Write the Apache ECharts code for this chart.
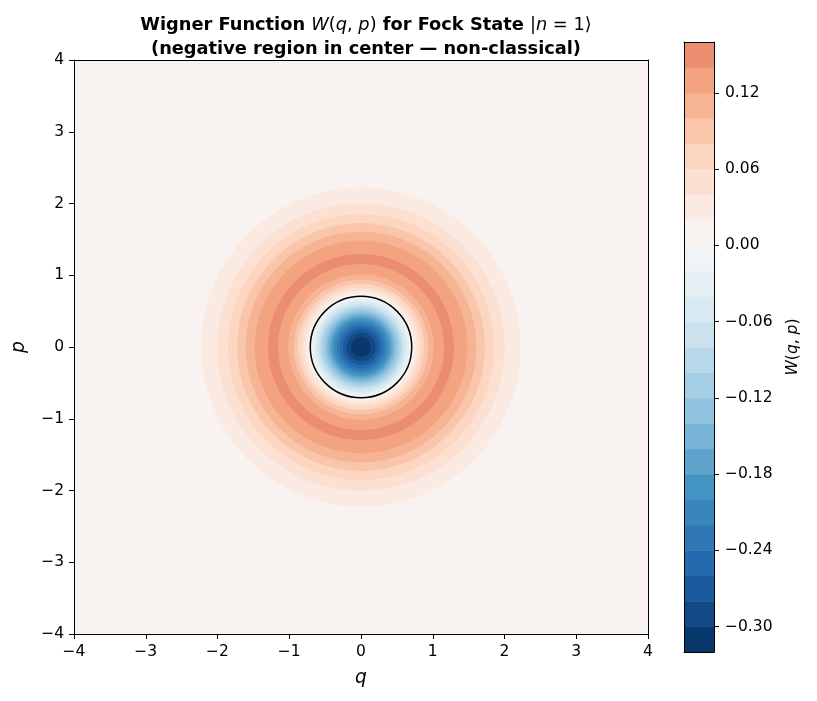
<!DOCTYPE html>
<html>
<head>
<meta charset="utf-8">
<script src="https://cdn.jsdelivr.net/npm/echarts@6/dist/echarts.min.js"></script>
<style>
html,body{margin:0;padding:0;background:#fff;}
#chart{width:817px;height:701px;}
</style>
</head>
<body>
<div id="chart"></div>
<script>
// Contour levels of W(q,p) (filled bands between consecutive levels)
const levels = [-0.32,-0.30,-0.28,-0.26,-0.24,-0.22,-0.20,-0.18,-0.16,-0.14,-0.12,-0.10,-0.08,-0.06,-0.04,-0.02,0.00,0.02,0.04,0.06,0.08,0.10,0.12,0.14,0.16];
// Radial rings: band lower level, inner radius, outer radius
const ringLevel = [-0.32,-0.30,-0.28,-0.26,-0.24,-0.22,-0.20,-0.18,-0.16,-0.14,-0.12,-0.10,-0.08,-0.06,-0.04,-0.02, 0.00, 0.02, 0.04, 0.06, 0.08, 0.10, 0.12, 0.14, 0.12, 0.10, 0.08, 0.06, 0.04, 0.02, 0.00];
const ringInner = [0.000,0.140,0.204,0.254,0.297,0.336,0.373,0.408,0.441,0.474,0.506,0.539,0.571,0.604,0.637,0.671,0.707,0.745,0.785,0.829,0.879,0.937,1.013,1.158,1.296,1.483,1.608,1.727,1.855,2.007,2.226];
const ringOuter = [0.140,0.204,0.254,0.297,0.336,0.373,0.408,0.441,0.474,0.506,0.539,0.571,0.604,0.637,0.671,0.707,0.745,0.785,0.829,0.879,0.937,1.013,1.158,1.296,1.483,1.608,1.727,1.855,2.007,2.226,6.000];
// Zero contour (boundary of negative region)
const zeroContourRadius = [0.707];
const axisTicks = [-4,-3,-2,-1,0,1,2,3,4];
const cbarTicks = [-0.30,-0.24,-0.18,-0.12,-0.06,0.00,0.06,0.12];

// RdBu_r colormap (matplotlib / ColorBrewer anchors)
const rdbu = ['#67001f','#b2182b','#d6604d','#f4a582','#fddbc7','#f7f7f7','#d1e5f0','#92c5de','#4393c3','#2166ac','#053061'].reverse();
function hex2rgb(h){return [parseInt(h.slice(1,3),16),parseInt(h.slice(3,5),16),parseInt(h.slice(5,7),16)];}
function cmap(t){
  t = Math.max(0, Math.min(1, t));
  const x = t * (rdbu.length - 1);
  const i = Math.min(Math.floor(x), rdbu.length - 2);
  const f = x - i;
  const a = hex2rgb(rdbu[i]), b = hex2rgb(rdbu[i+1]);
  const c = a.map((v,k)=>Math.round(v + (b[k]-v)*f));
  return 'rgb(' + c.join(',') + ')';
}
const vmax = 0.32;
function bandColor(low){ const mid = low + 0.01; return cmap((mid + vmax) / (2*vmax)); }

const minus = v => String(v).replace('-', '\u2212');

// ring data sorted by outer radius descending (draw as nested discs)
const ringData = ringLevel.map((l,i)=>[ringOuter[i], l]).sort((a,b)=>b[0]-a[0]);
const bandData = levels.slice(0,-1).map((l,i)=>[l, levels[i+1]]);

const FONT = 'DejaVu Sans';
const TF = 17.8;
const chart = echarts.init(document.getElementById('chart'), null, {renderer:'canvas'});
const lineStyle = {color:'#000', width:1};
const frameAxis = {axisTick:{show:false}, axisLabel:{show:false}, splitLine:{show:false}, z:10};
chart.setOption({
  animation:false,
  backgroundColor:'#fff',
  textStyle:{fontFamily:FONT},
  title:{
    left:361, top:8, textAlign:'center',
    text:'{b|Wigner Function }{i|W}{m|(}{i|q}{m|, }{i|p}{m|)}{b| for Fock State }{m||}{i|n}{m| = 1\u27E9}\n{b|(negative region in center \u2014 non-classical)}',
    textStyle:{
      fontWeight:'normal',
      rich:{
        b:{fontFamily:FONT, fontWeight:'bold', fontSize:TF, color:'#000', lineHeight:24},
        m:{fontFamily:FONT, fontWeight:'normal', fontSize:TF, color:'#000', lineHeight:24},
        i:{fontFamily:FONT, fontWeight:'normal', fontStyle:'italic', fontSize:TF, color:'#000', lineHeight:24}
      }
    }
  },
  grid:[
    {left:74, top:60, width:574, height:574},
    {left:684, top:42, width:30, height:610}
  ],
  xAxis:[
    {gridIndex:0, type:'value', min:-4, max:4, interval:1, position:'bottom', z:10,
      axisLine:{show:true, onZero:false, lineStyle}, axisTick:{show:true, length:5, lineStyle},
      axisLabel:{color:'#000', fontSize:15.5, margin:10, formatter:minus},
      splitLine:{show:false},
      name:'q', nameLocation:'middle', nameGap:35,
      nameTextStyle:{fontStyle:'italic', fontSize:18.6, color:'#000', fontFamily:FONT}},
    Object.assign({gridIndex:0, type:'value', min:-4, max:4, position:'top',
      axisLine:{show:true, onZero:false, lineStyle}}, frameAxis),
    Object.assign({gridIndex:1, type:'value', min:0, max:1, position:'bottom',
      axisLine:{show:true, onZero:false, lineStyle}}, frameAxis),
    Object.assign({gridIndex:1, type:'value', min:0, max:1, position:'top',
      axisLine:{show:true, onZero:false, lineStyle}}, frameAxis)
  ],
  yAxis:[
    {gridIndex:0, type:'value', min:-4, max:4, interval:1, position:'left', z:10,
      axisLine:{show:true, onZero:false, lineStyle}, axisTick:{show:true, length:5, lineStyle},
      axisLabel:{color:'#000', fontSize:15.5, margin:10, formatter:minus},
      splitLine:{show:false},
      name:'p', nameLocation:'middle', nameGap:45, nameRotate:90,
      nameTextStyle:{fontStyle:'italic', fontSize:18.6, color:'#000', fontFamily:FONT}},
    Object.assign({gridIndex:0, type:'value', min:-4, max:4, position:'right',
      axisLine:{show:true, onZero:false, lineStyle}}, frameAxis),
    {gridIndex:1, type:'value', min:-0.32, max:0.16, position:'right', z:10,
      axisLine:{show:true, onZero:false, lineStyle},
      axisTick:{show:true, length:5, lineStyle, customValues:cbarTicks},
      axisLabel:{color:'#000', fontSize:15.5, margin:11, customValues:cbarTicks,
        formatter:v=>minus(v.toFixed(2))},
      splitLine:{show:false},
      name:'{i|W}{m|(}{i|q}{m|, }{i|p}{m|)}', nameLocation:'middle', nameGap:71, nameRotate:90,
      nameTextStyle:{rich:{
        i:{fontFamily:FONT, fontStyle:'italic', fontSize:15.5, color:'#000'},
        m:{fontFamily:FONT, fontSize:15.5, color:'#000'}}}},
    Object.assign({gridIndex:1, type:'value', min:-0.32, max:0.16, position:'left',
      axisLine:{show:true, onZero:false, lineStyle}}, frameAxis)
  ],
  series:[
    {
      type:'custom', xAxisIndex:0, yAxisIndex:0, clip:true, z:1,
      data: ringData,
      renderItem:(params, api)=>{
        const c = api.coord([0,0]);
        const s = api.size([1,1]);
        const r = api.value(0) * s[0];
        return {type:'circle', shape:{cx:c[0], cy:c[1], r:r}, style:{fill:bandColor(api.value(1)), stroke:null}};
      }
    },
    {
      type:'custom', xAxisIndex:0, yAxisIndex:0, clip:true, z:3,
      data: zeroContourRadius.map(r=>[r]),
      renderItem:(params, api)=>{
        const c = api.coord([0,0]);
        const s = api.size([1,1]);
        return {type:'circle', shape:{cx:c[0], cy:c[1], r:api.value(0)*s[0]}, style:{fill:null, stroke:'#000', lineWidth:1.5}};
      }
    },
    {
      type:'custom', xAxisIndex:2, yAxisIndex:2, clip:true, z:1,
      data: bandData,
      renderItem:(params, api)=>{
        const p0 = api.coord([0, api.value(0)]);
        const p1 = api.coord([1, api.value(1)]);
        return {type:'rect', shape:{x:p0[0], y:p1[1], width:p1[0]-p0[0], height:p0[1]-p1[1]+0.5},
          style:{fill:bandColor(api.value(0)), stroke:null}};
      }
    }
  ]
});
</script>
</body>
</html>
